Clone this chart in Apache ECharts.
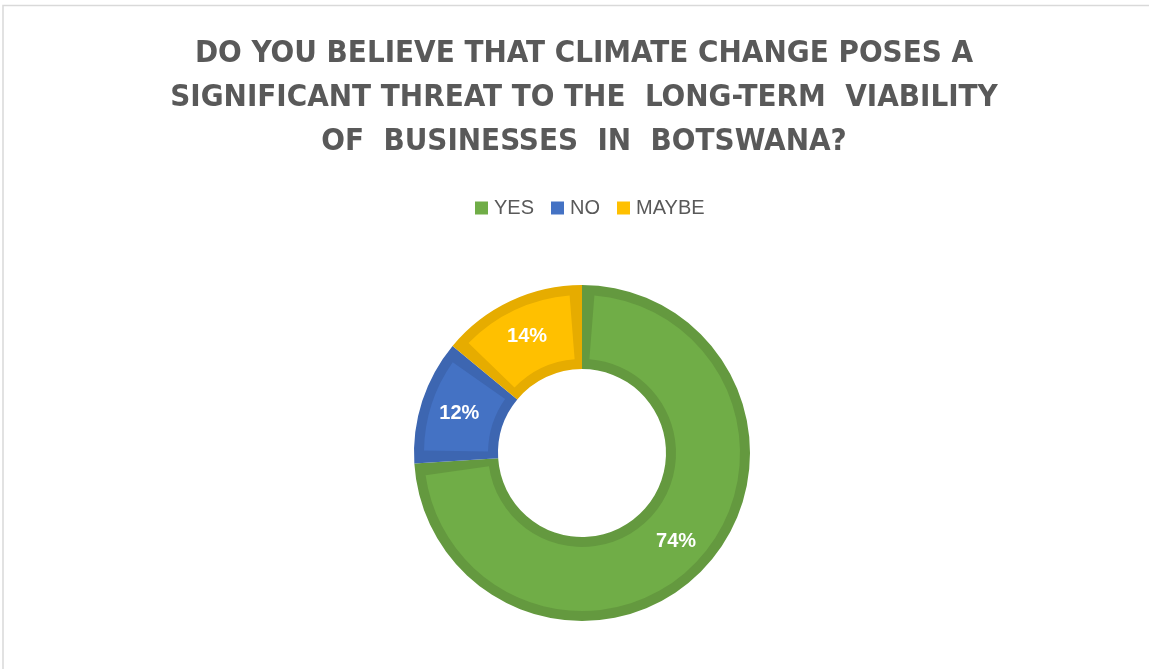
<!DOCTYPE html>
<html>
<head>
<meta charset="utf-8">
<title>Climate change threat survey</title>
<script src="https://cdn.jsdelivr.net/npm/echarts@6/dist/echarts.min.js"></script>
<style>
  html, body { margin: 0; padding: 0; background: #ffffff; }
  #chart { width: 1149px; height: 669px; }
</style>
</head>
<body>
<div id="chart"></div>
<script>
// Survey answers and their share of respondents (%)
const categories = ['YES', 'NO', 'MAYBE'];
const shares = [74, 12, 14];

// Fill and outline shades for each answer
const fillColors = ['#70AD47', '#4472C4', '#FFC000'];
const edgeColors = ['#64993F', '#3D66B1', '#E6AC00'];

const titleLines = [
  'DO YOU BELIEVE THAT CLIMATE CHANGE POSES A',
  'SIGNIFICANT THREAT TO THE  LONG-TERM  VIABILITY',
  'OF  BUSINESSES  IN  BOTSWANA?'
];

const chart = echarts.init(document.getElementById('chart'), null, { renderer: 'canvas' });

const outerData = categories.map((name, i) => ({
  name, value: shares[i], itemStyle: { color: edgeColors[i] }
}));
const innerData = categories.map((name, i) => ({
  name, value: shares[i], itemStyle: { color: fillColors[i] }
}));

chart.setOption({
  animation: false,
  backgroundColor: '#ffffff',
  graphic: [{
    type: 'rect',
    silent: true,
    shape: { x: 3, y: 5.5, width: 1200, height: 700 },
    style: { fill: 'none', stroke: '#D9D9D9', lineWidth: 1.5 }
  }],
  title: {
    text: titleLines.join('\n'),
    left: 579,
    top: 27,
    textAlign: 'center',
    textStyle: {
      fontFamily: "'DejaVu Sans Condensed', sans-serif",
      fontWeight: 'bold',
      fontSize: 31,
      lineHeight: 44,
      color: '#595959'
    }
  },
  legend: {
    top: 193,
    left: 470,
    itemWidth: 13,
    itemHeight: 13,
    itemGap: 17,
    icon: 'rect',
    data: categories.map((name, i) => ({ name, itemStyle: { color: fillColors[i] } })),
    textStyle: {
      fontFamily: "'Liberation Sans', Arial, sans-serif",
      fontSize: 20,
      padding: [0, 0, 0, 1],
      color: '#595959'
    }
  },
  series: [
    {
      // outline ring in the darker shade
      type: 'pie',
      center: [582, 453],
      radius: [84, 168],
      startAngle: 90,
      clockwise: true,
      silent: true,
      label: { show: false },
      labelLine: { show: false },
      emphasis: { disabled: true },
      data: outerData
    },
    {
      // inset fill in the lighter shade, carrying the percentage labels
      type: 'pie',
      center: [582, 453],
      radius: [94, 158],
      startAngle: 90,
      clockwise: true,
      padAngle: 9,
      silent: true,
      emphasis: { disabled: true },
      label: {
        show: true,
        position: 'inside',
        formatter: p => p.value + '%',
        color: '#ffffff',
        fontFamily: "'Liberation Sans', Arial, sans-serif",
        fontWeight: 'bold',
        fontSize: 20
      },
      labelLine: { show: false },
      data: innerData
    }
  ]
});
</script>
</body>
</html>
